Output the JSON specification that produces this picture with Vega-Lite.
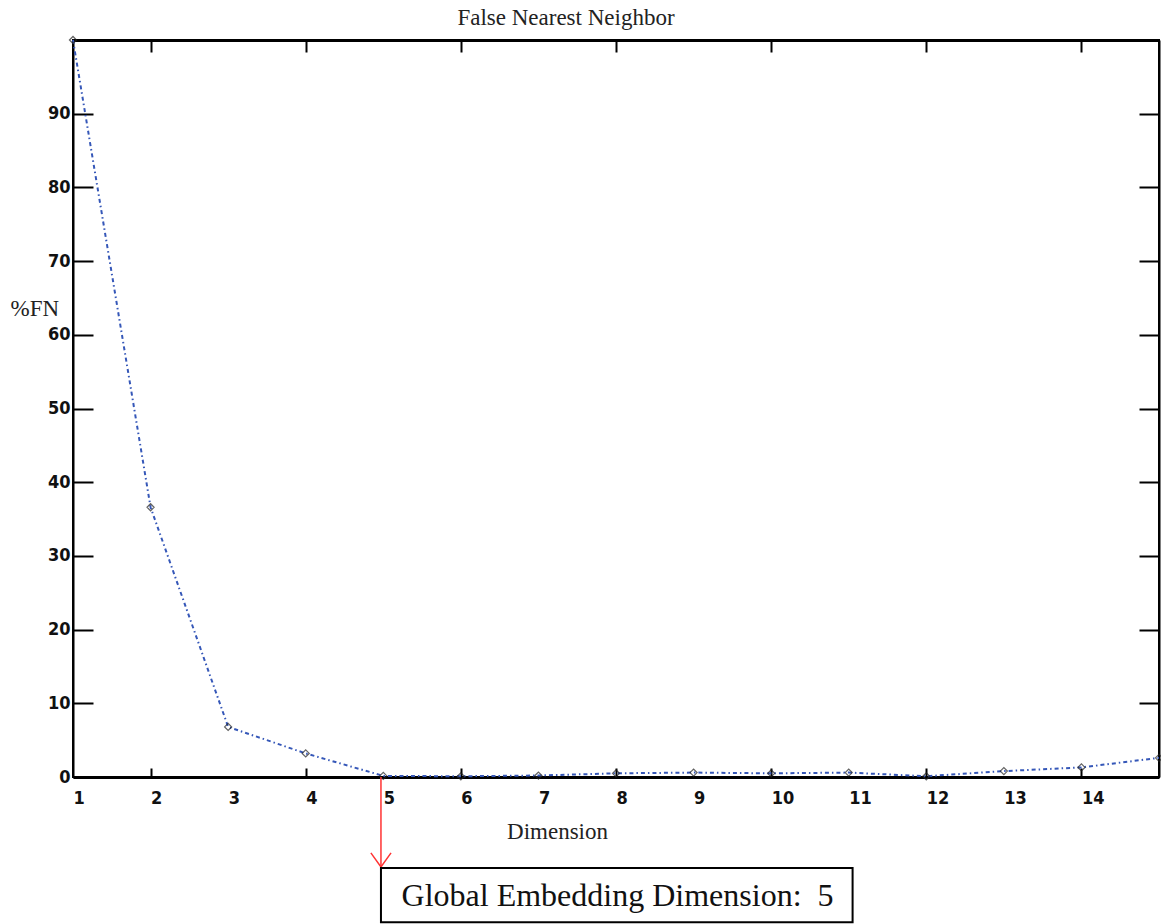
{
  "$schema": "https://vega.github.io/schema/vega-lite/v6.json",
  "width": 1086,
  "height": 737,
  "autosize": {"type": "none"},
  "padding": {"left": 73, "top": 40, "right": 2, "bottom": 147},
  "background": "white",
  "config": {"view": {"stroke": "black", "strokeWidth": 2}},
  "title": {
    "text": "False Nearest Neighbor",
    "font": "Liberation Serif",
    "fontSize": 23,
    "fontWeight": "normal",
    "color": "#222222",
    "anchor": "middle",
    "dx": -50,
    "dy": 27,
    "offset": 13,
    "baseline": "alphabetic"
  },
  "datasets": {
    "fnn": [
      {"dim": 1, "fn": 100},
      {"dim": 2, "fn": 36.6},
      {"dim": 3, "fn": 6.8},
      {"dim": 4, "fn": 3.2},
      {"dim": 5, "fn": 0.15},
      {"dim": 6, "fn": 0.1},
      {"dim": 7, "fn": 0.2},
      {"dim": 8, "fn": 0.5},
      {"dim": 9, "fn": 0.6},
      {"dim": 10, "fn": 0.5},
      {"dim": 11, "fn": 0.6},
      {"dim": 12, "fn": 0.1},
      {"dim": 13, "fn": 0.8},
      {"dim": 14, "fn": 1.3},
      {"dim": 15, "fn": 2.6}
    ],
    "arrow": [
      {"x": 4.97, "y": 0, "y2": -12.2}
    ],
    "head": [
      {"x": 4.84, "y": -10.3, "o": 1},
      {"x": 4.97, "y": -12.2, "o": 2},
      {"x": 5.1, "y": -10.3, "o": 3}
    ],
    "box": [
      {"x": 4.97, "x2": 11.05, "y": -12.35, "y2": -19.7, "label": "Global Embedding Dimension:\u00a0 5", "tx": 8.02, "ty": -17.5}
    ]
  },
  "layer": [
    {
      "data": {"name": "fnn"},
      "mark": {"type": "line", "color": "#3557b8", "strokeWidth": 2, "strokeDash": [4, 3, 1.5, 3], "clip": false},
      "encoding": {
        "x": {
          "field": "dim", "type": "quantitative",
          "scale": {"domain": [1, 15], "nice": false, "zero": false},
          "axis": {
            "orient": "bottom",
            "values": [1, 2, 3, 4, 5, 6, 7, 8, 9, 10, 11, 12, 13, 14],
            "title": "Dimension",
            "titleFont": "Liberation Serif",
            "titleFontSize": 23,
            "titleFontWeight": "normal",
            "titleColor": "#222222",
            "titleX": 484,
            "titleY": 61,
            "titleAlign": "center",
            "titleBaseline": "alphabetic",
            "grid": false,
            "domainColor": "black",
            "domainWidth": 3,
            "tickSize": -9,
            "tickWidth": 2,
            "tickColor": {"condition": {"test": "datum.value % 2 === 1", "value": "transparent"}, "value": "black"},
            "labelFont": "DejaVu Sans Condensed",
            "labelFontSize": 18,
            "labelFontWeight": "bold",
            "labelColor": "#111111",
            "labelAlign": "left",
            "labelBaseline": "top",
            "labelPadding": 21,
            "labelFlush": false,
            "labelOverlap": false
          }
        },
        "y": {
          "field": "fn", "type": "quantitative",
          "scale": {"domain": [0, 100], "nice": false, "zero": false},
          "axis": {
            "orient": "left",
            "values": [0, 10, 20, 30, 40, 50, 60, 70, 80, 90],
            "title": "%FN",
            "titleFont": "Liberation Serif",
            "titleFontSize": 23,
            "titleFontWeight": "normal",
            "titleColor": "#222222",
            "titleAngle": 0,
            "titleX": -63,
            "titleY": 275,
            "titleAlign": "left",
            "titleBaseline": "alphabetic",
            "grid": false,
            "domainColor": "black",
            "domainWidth": 2,
            "tickSize": -20,
            "tickWidth": 2,
            "tickColor": "black",
            "labelFont": "DejaVu Sans Condensed",
            "labelFontSize": 18,
            "labelFontWeight": "bold",
            "labelColor": "#111111",
            "labelPadding": 23,
            "labelFlush": false,
            "labelOverlap": false
          }
        }
      }
    },
    {
      "data": {"name": "fnn"},
      "mark": {"type": "point", "shape": "diamond", "filled": false, "color": "#222222", "size": 50, "strokeWidth": 1.2, "clip": false},
      "encoding": {
        "x": {
          "field": "dim", "type": "quantitative",
          "scale": {"domain": [1, 15], "nice": false, "zero": false},
          "axis": {
            "orient": "top",
            "values": [2, 4, 6, 8, 10, 12, 14],
            "title": null,
            "labels": false,
            "grid": false,
            "domainColor": "black",
            "domainWidth": 3,
            "tickSize": -12,
            "tickWidth": 2,
            "tickColor": "black"
          }
        },
        "y": {
          "field": "fn", "type": "quantitative",
          "scale": {"domain": [0, 100], "nice": false, "zero": false},
          "axis": {
            "orient": "right",
            "values": [10, 20, 30, 40, 50, 60, 70, 80, 90],
            "title": null,
            "labels": false,
            "grid": false,
            "domainColor": "black",
            "domainWidth": 2,
            "tickSize": -20,
            "tickWidth": 2,
            "tickColor": "black"
          }
        }
      }
    },
    {
      "data": {"name": "arrow"},
      "mark": {"type": "rule", "color": "#ff3333", "strokeWidth": 1.5, "clip": false},
      "encoding": {
        "x": {"field": "x", "type": "quantitative", "scale": {"domain": [1, 15]}, "axis": null},
        "y": {"field": "y", "type": "quantitative", "scale": {"domain": [0, 100]}, "axis": null},
        "y2": {"field": "y2"}
      }
    },
    {
      "data": {"name": "head"},
      "mark": {"type": "line", "color": "#ff3333", "strokeWidth": 1.5, "clip": false},
      "encoding": {
        "x": {"field": "x", "type": "quantitative", "scale": {"domain": [1, 15]}, "axis": null},
        "y": {"field": "y", "type": "quantitative", "scale": {"domain": [0, 100]}, "axis": null},
        "order": {"field": "o"}
      }
    },
    {
      "data": {"name": "box"},
      "mark": {"type": "rect", "fill": "white", "stroke": "black", "strokeWidth": 2, "clip": false},
      "encoding": {
        "x": {"field": "x", "type": "quantitative", "scale": {"domain": [1, 15]}, "axis": null},
        "x2": {"field": "x2"},
        "y": {"field": "y", "type": "quantitative", "scale": {"domain": [0, 100]}, "axis": null},
        "y2": {"field": "y2"}
      }
    },
    {
      "data": {"name": "box"},
      "mark": {"type": "text", "font": "Liberation Serif", "fontSize": 32, "color": "#111111", "align": "center", "baseline": "alphabetic", "clip": false},
      "encoding": {
        "x": {"field": "tx", "type": "quantitative", "scale": {"domain": [1, 15]}, "axis": null},
        "y": {"field": "ty", "type": "quantitative", "scale": {"domain": [0, 100]}, "axis": null},
        "text": {"field": "label"}
      }
    }
  ],
  "resolve": {"axis": {"x": "independent", "y": "independent"}}
}
